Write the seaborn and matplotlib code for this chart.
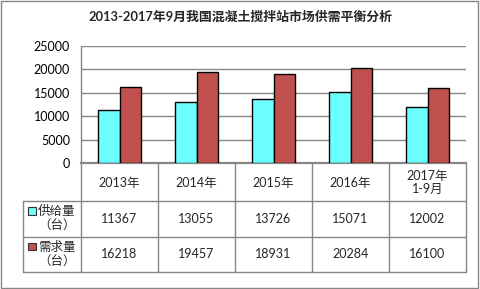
import matplotlib
matplotlib.use("Agg")
import matplotlib.pyplot as plt
import seaborn as sns
import pandas as pd
from matplotlib.patches import Rectangle

# ---- data ----
categories = ['2013年', '2014年', '2015年', '2016年', '2017年\n1-9月']
supply = [11367, 13055, 13726, 15071, 12002]
demand = [16218, 19457, 18931, 20284, 16100]
series_names = ['供给量', '需求量']
series_units = '（台）'
title = '2013-2017年9月我国混凝土搅拌站市场供需平衡分析'
yticks = [0, 5000, 10000, 15000, 20000, 25000]

colors = ['#6DFFFF', '#C0504D']
grid_c = '#868686'

sns.set_theme(style='white')
plt.rcParams['font.family'] = ['Lato', 'Noto Sans CJK SC', 'DejaVu Sans']

W, H = 481, 289
fig = plt.figure(figsize=(W / 100, H / 100), dpi=100)
fig.patch.set_facecolor('white')

# plot area in pixels
L, R, T, B = 81, 466, 46, 163
ax = fig.add_axes([L / W, 1 - B / H, (R - L) / W, (B - T) / H])

df = pd.DataFrame({
    'cat': categories * 2,
    'series': [series_names[0]] * len(categories) + [series_names[1]] * len(categories),
    'value': supply + demand,
})
sns.barplot(data=df, x='cat', y='value', hue='series', hue_order=series_names,
            palette=colors, width=0.571, edgecolor='black', linewidth=1.0,
            saturation=1, legend=False, ax=ax, zorder=3)

ax.set_xlim(-0.5, len(categories) - 0.5)
ax.set_ylim(0, 25000)
ax.set_yticks(yticks)
ax.set_yticklabels([str(v) for v in yticks], fontsize=9, color='black')
ax.tick_params(axis='y', length=0, pad=8)
ax.set_xticks([])
ax.set_xlabel('')
ax.set_ylabel('')
ax.yaxis.grid(True, color=grid_c, linewidth=1.0)
ax.set_axisbelow(True)
for s in ['top', 'right']:
    ax.spines[s].set_visible(False)
ax.spines['left'].set_color(grid_c)
ax.spines['left'].set_linewidth(1.0)
ax.spines['bottom'].set_color(grid_c)
ax.spines['bottom'].set_linewidth(1.6)

# overlay in pixel coordinates for title, table and frame
ov = fig.add_axes([0, 0, 1, 1], zorder=5)
ov.set_xlim(0, W)
ov.set_ylim(H, 0)
ov.axis('off')
ov.patch.set_alpha(0)

ov.add_patch(Rectangle((1, 1), 477, 287, fill=False, edgecolor=grid_c, linewidth=1.0))
ov.text(240, 17, title, ha='center', va='center', fontsize=9.3, fontweight='bold')

n = len(categories)
colw = (R - L) / n
xs = [L + i * colw for i in range(n + 1)]
LEG = 23
r1, r2, r3 = 201, 237, 272
lc = grid_c
lw = 1.0
ov.plot([LEG, R], [r1, r1], color=lc, lw=lw)
ov.plot([LEG, R], [r2, r2], color=lc, lw=lw)
ov.plot([LEG, R], [r3, r3], color=lc, lw=lw)
ov.plot([LEG, LEG], [r1, r3], color=lc, lw=lw)
for x in xs:
    ov.plot([x, x], [B, r3], color=lc, lw=lw)

fs = 9
for i, c in enumerate(categories):
    cx = (xs[i] + xs[i + 1]) / 2
    ov.text(cx, (B + r1) / 2 + 0.5, c, ha='center', va='center', fontsize=fs,
            linespacing=1.15)
    ov.text(cx, (r1 + r2) / 2, str(supply[i]), ha='center', va='center', fontsize=fs)
    ov.text(cx, (r2 + r3) / 2, str(demand[i]), ha='center', va='center', fontsize=fs)

for j, (name, col, (ya, yb)) in enumerate(zip(series_names, colors, [(r1, r2), (r2, r3)])):
    ym = (ya + yb) / 2
    ov.add_patch(Rectangle((28.5, ym - 12), 7.5, 7.5, facecolor=col, edgecolor='#333333', linewidth=0.8))
    ov.text(38, ym - 8, name, ha='left', va='center', fontsize=9)
    ov.text(57, ym + 7, series_units, ha='center', va='center', fontsize=9)

fig.savefig('out.png', dpi=100, facecolor='white')
